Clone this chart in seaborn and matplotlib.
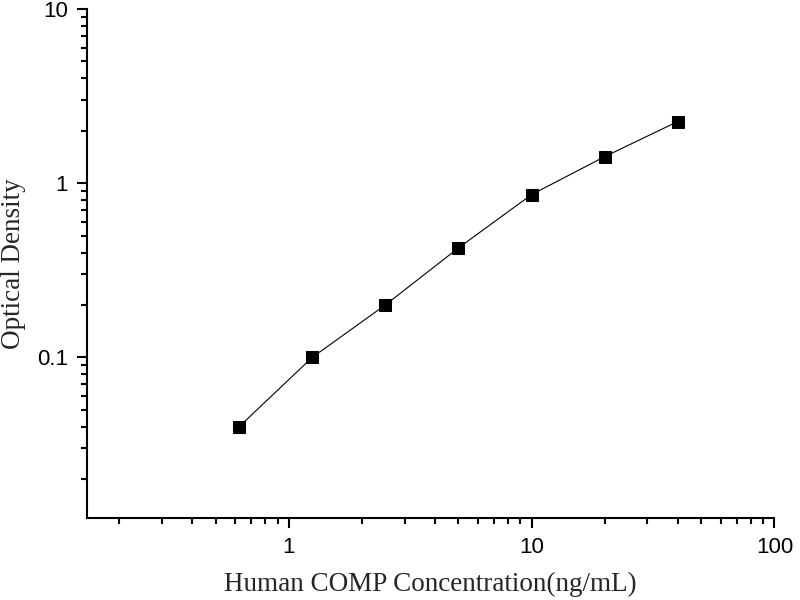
import numpy as np
import pandas as pd
import matplotlib
matplotlib.use("Agg")
import matplotlib.pyplot as plt
import seaborn as sns
from matplotlib.ticker import LogLocator, NullFormatter, FuncFormatter

# ── Standard curve data ────────────────────────────────────────────────────────
concentration = [0.625, 1.25, 2.5, 5, 10, 20, 40]
optical_density = [0.040, 0.100, 0.200, 0.425, 0.86, 1.42, 2.26]

x_ticks = [1, 10, 100]
y_ticks = [0.1, 1, 10]

df = pd.DataFrame({"conc": concentration, "od": optical_density})

sns.set_theme(style="ticks")
plt.rcParams["font.family"] = ["Liberation Sans", "DejaVu Sans"]

fig = plt.figure(figsize=(8, 6), dpi=100)
ax = fig.add_axes([0.109, 0.137, 0.859, 0.848])

sns.lineplot(data=df, x="conc", y="od", ax=ax, color="black", linewidth=0.8,
             marker="s", markersize=8, markeredgecolor="black",
             markerfacecolor="black")

ax.set_xscale("log")
ax.set_yscale("log")
ax.set_xlim(0.148, 100)
ax.set_ylim(0.012, 10)

fmt = FuncFormatter(lambda v, _: f"{v:g}")
ax.xaxis.set_minor_locator(LogLocator(base=10, subs=np.arange(2, 10)))
ax.yaxis.set_minor_locator(LogLocator(base=10, subs=np.arange(2, 10)))
ax.set_xticks(x_ticks)
ax.set_yticks(y_ticks)
ax.xaxis.set_major_formatter(fmt)
ax.yaxis.set_major_formatter(fmt)
ax.xaxis.set_minor_formatter(NullFormatter())
ax.yaxis.set_minor_formatter(NullFormatter())

ax.tick_params(axis="both", which="major", direction="out", length=7,
               width=1.5, labelsize=16, colors="black", pad=7)
ax.tick_params(axis="both", which="minor", direction="out", length=4,
               width=1.5, colors="black")

for side in ["top", "right"]:
    ax.spines[side].set_visible(False)
for side in ["left", "bottom"]:
    ax.spines[side].set_linewidth(1.5)
    ax.spines[side].set_color("black")

ax.set_xlabel("Human COMP Concentration(ng/mL)", family="Liberation Serif",
              fontsize=19.5, labelpad=10)
ax.set_ylabel("Optical Density", family="Liberation Serif", fontsize=19.5,
              labelpad=8)

fig.savefig("out.png", dpi=100)
